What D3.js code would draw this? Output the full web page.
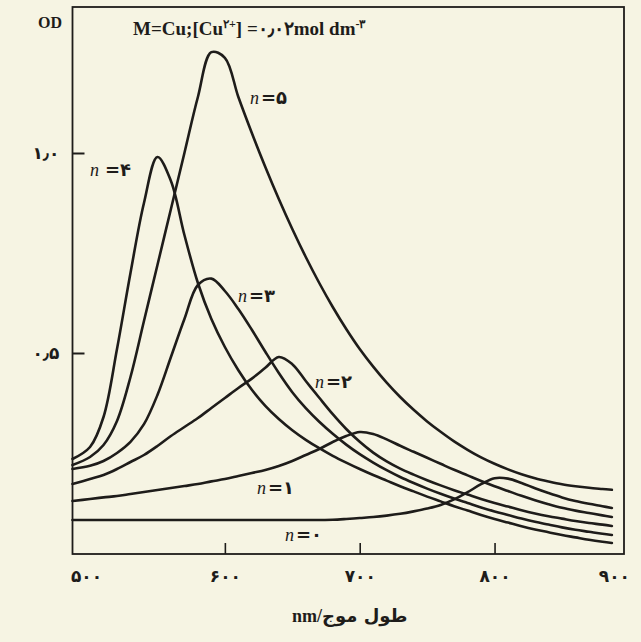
<!DOCTYPE html>
<html><head><meta charset="utf-8">
<script src="https://cdn.jsdelivr.net/npm/d3@7"></script>
<style>html,body{margin:0;padding:0;background:#f6f4e3;} svg{display:block}</style>
</head><body>
<svg id="c" width="641" height="642"></svg>
<script>
// ---- data ----
const wavelengths = [487,500,510,520,530,540,550,560,570,580,590,600,610,620,630,640,650,660,670,680,690,700,710,720,730,740,750,760,770,780,790,800,810,820,830,840,850,860,870,880,887];
const od_n0 = [0.0825,0.0825,0.0825,0.0825,0.0825,0.0825,0.0825,0.0825,0.0825,0.0825,0.0825,0.0825,0.0825,0.0825,0.0825,0.0825,0.0825,0.0825,0.0825,0.083,0.085,0.0875,0.09,0.0935,0.098,0.104,0.111,0.12,0.134,0.152,0.172,0.187,0.186,0.175,0.162,0.15,0.139,0.13,0.123,0.117,0.1125];
const od_n1 = [0.13,0.135,0.139,0.1425,0.1475,0.1525,0.1575,0.1625,0.1675,0.1725,0.179,0.185,0.1925,0.20,0.2075,0.2175,0.23,0.245,0.26,0.2775,0.2925,0.3025,0.2975,0.284,0.268,0.253,0.238,0.223,0.208,0.194,0.18,0.167,0.155,0.143,0.132,0.122,0.113,0.106,0.1,0.094,0.09];
const od_n2 = [0.1725,0.185,0.195,0.21,0.2275,0.245,0.2675,0.2925,0.315,0.3375,0.3625,0.3875,0.4125,0.436,0.463,0.49,0.472,0.43,0.388,0.347,0.31,0.278,0.251,0.229,0.211,0.196,0.182,0.169,0.157,0.146,0.135,0.125,0.116,0.107,0.099,0.092,0.086,0.08,0.075,0.071,0.0675];
const od_n3 = [0.21,0.218,0.23,0.25,0.278,0.322,0.395,0.49,0.585,0.67,0.686,0.655,0.61,0.558,0.503,0.45,0.402,0.362,0.328,0.298,0.271,0.247,0.226,0.207,0.19,0.175,0.161,0.148,0.136,0.125,0.114,0.104,0.095,0.086,0.078,0.071,0.064,0.058,0.053,0.048,0.045];
const od_n4 = [0.235,0.265,0.34,0.51,0.70,0.875,0.99,0.93,0.795,0.675,0.585,0.515,0.457,0.408,0.368,0.335,0.307,0.283,0.262,0.243,0.226,0.21,0.195,0.181,0.167,0.154,0.141,0.129,0.117,0.106,0.095,0.085,0.076,0.067,0.059,0.052,0.045,0.039,0.033,0.028,0.025];
const od_n5 = [0.22,0.24,0.27,0.33,0.44,0.58,0.72,0.86,1.00,1.14,1.252,1.238,1.14,1.05,0.965,0.885,0.81,0.74,0.675,0.615,0.56,0.51,0.466,0.426,0.39,0.358,0.329,0.303,0.279,0.258,0.239,0.223,0.209,0.197,0.187,0.179,0.172,0.167,0.163,0.16,0.158];
const seriesDigits = ["۰","۱","۲","۳","۴","۵"];
const xTickValues = [500,600,700,800,900];
const xTickLabels = ["۵۰۰","۶۰۰","۷۰۰","۸۰۰","۹۰۰"];
const yTickValues = [0.5,1.0];
const yTickLabels = ["۰٫۵","۱٫۰"];

// ---- layout ----
const svg = d3.select("#c");
const L = 72.5, R = 624, T = 7, B = 553;
const x = d3.scaleLinear().domain([487, 896]).range([L, R]);
const y = d3.scaleLinear().domain([0, 1.365]).range([B, T]);
const ink = "#1e1c1a";

svg.append("rect").attr("width",641).attr("height",642).attr("fill","#f6f4e3");

// curves
const allSeries = [od_n0, od_n1, od_n2, od_n3, od_n4, od_n5];
const line = d3.line().x((d,i)=>x(wavelengths[i])).y(d=>y(d)).curve(d3.curveCatmullRom.alpha(0.5));
svg.append("g").selectAll("path").data(allSeries).join("path")
  .attr("d", line).attr("fill","none").attr("stroke",ink)
  .attr("stroke-width",2.6).attr("stroke-linejoin","round").attr("stroke-linecap","round");

// frame
svg.append("rect").attr("x",L).attr("y",T).attr("width",R-L).attr("height",B+1-T)
  .attr("fill","none").attr("stroke",ink).attr("stroke-width",1.8);

// x axis
const xAxis = d3.axisBottom(x).tickValues(xTickValues)
  .tickFormat((d,i)=>xTickLabels[i]).tickSizeInner(-11).tickSizeOuter(0).tickPadding(16);
const gx = svg.append("g").attr("transform",`translate(0,${B+1})`).call(xAxis);
gx.select(".domain").remove();
gx.selectAll(".tick line").attr("stroke",ink).attr("stroke-width",1.6)
  .attr("display", d => (d===xTickValues[0]||d===xTickValues[xTickValues.length-1]) ? "none" : null);
gx.selectAll(".tick text").attr("fill",ink).attr("font-family","DejaVu Sans").attr("font-weight","bold")
  .attr("font-size",17)
  .attr("text-anchor", d => d===xTickValues[xTickValues.length-1] ? "end" : "middle")
  .attr("dx", d => d===xTickValues[0] ? -4 : 0);

// y axis
const yAxis = d3.axisLeft(y).tickValues(yTickValues)
  .tickFormat((d,i)=>yTickLabels[i]).tickSizeInner(-12).tickSizeOuter(0).tickPadding(13);
const gy = svg.append("g").attr("transform",`translate(${L},0)`).call(yAxis);
gy.select(".domain").remove();
gy.selectAll(".tick line").attr("stroke",ink).attr("stroke-width",2);
gy.selectAll(".tick text").attr("fill",ink).attr("font-family","DejaVu Sans").attr("font-weight","bold")
  .attr("font-size",17);

// OD label
svg.append("text").attr("x",50).attr("y",28).attr("text-anchor","middle")
  .attr("font-family","Liberation Serif").attr("font-weight","bold").attr("font-size",16)
  .attr("fill",ink).text("OD");

// title
const title = svg.append("text").attr("x",133).attr("y",35)
  .attr("font-family","Liberation Serif").attr("font-weight","bold").attr("font-size",19).attr("fill",ink);
title.append("tspan").text("M=Cu;[Cu");
title.append("tspan").attr("dy",-7).attr("font-size",12).text("۲+");
title.append("tspan").attr("dy",7).text("] =۰٫۰۲mol dm");
title.append("tspan").attr("dy",-7).attr("font-size",12).text("-۳");

// curve labels
const labelPos = [[285,541],[257,494],[315,388],[238,302],[90,176],[250,104]];
seriesDigits.forEach((dg,i)=>{
  const t = svg.append("text").attr("x",labelPos[i][0]).attr("y",labelPos[i][1]).attr("fill",ink);
  t.append("tspan").attr("font-family","Liberation Serif").attr("font-style","italic").attr("font-size",18).text("n");
  t.append("tspan").attr("font-family","DejaVu Sans").attr("font-weight","bold").attr("font-size",18)
    .attr("dx", i===4 ? 6 : 2).text("=" + dg);
});

// x axis title
svg.append("text").attr("x",322).attr("y",622).attr("text-anchor","end")
  .attr("font-family","Liberation Serif").attr("font-weight","bold").attr("font-size",18).attr("fill",ink).text("nm/");
svg.append("text").attr("x",322).attr("y",622).attr("text-anchor","start")
  .attr("font-family","DejaVu Sans").attr("font-weight","bold").attr("font-size",18).attr("fill",ink).text("طول موج");
</script>
</body></html>
